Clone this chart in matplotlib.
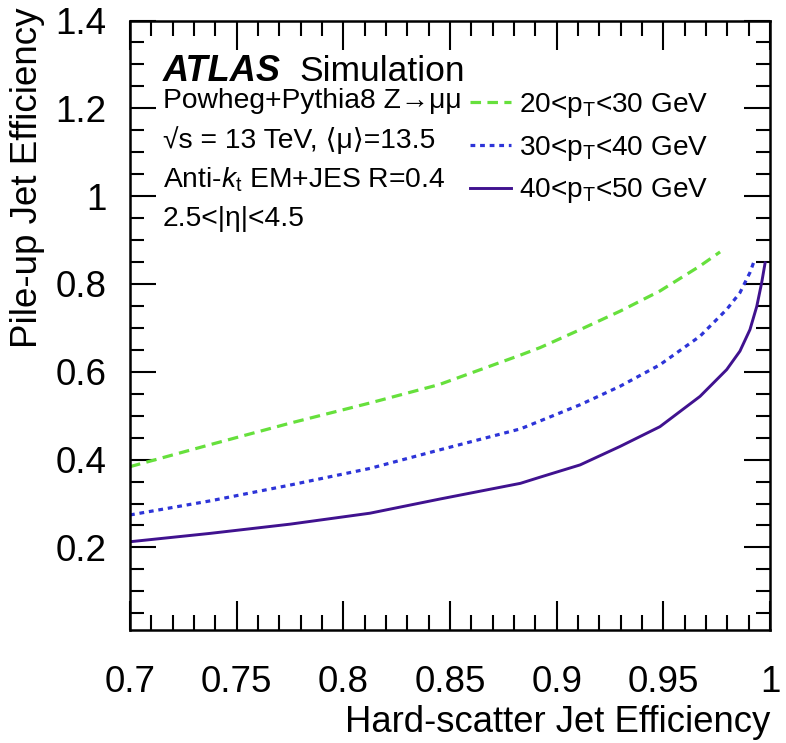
import matplotlib
matplotlib.use("Agg")
import matplotlib.pyplot as plt
from matplotlib.ticker import MultipleLocator

plt.rcParams['font.family'] = ['Liberation Sans', 'DejaVu Sans']
plt.rcParams['mathtext.fontset'] = 'custom'
plt.rcParams['mathtext.rm'] = 'Liberation Sans'
plt.rcParams['mathtext.it'] = 'Liberation Sans:italic'

# Data
x_20_30 = [0.700, 0.7375, 0.775, 0.8125, 0.845, 0.883, 0.8922, 0.911, 0.9297, 0.9484, 0.9672, 0.9766]
y_20_30 = [0.384, 0.434, 0.483, 0.529, 0.571, 0.638, 0.655, 0.696, 0.738, 0.784, 0.841, 0.873]

x_30_40 = [0.700, 0.7375, 0.775, 0.8125, 0.845, 0.883, 0.8922, 0.911, 0.9297, 0.9484, 0.9672, 0.9797, 0.9859, 0.9906, 0.993]
y_30_40 = [0.274, 0.306, 0.342, 0.380, 0.422, 0.470, 0.488, 0.525, 0.567, 0.616, 0.681, 0.742, 0.780, 0.826, 0.858]

x_40_50 = [0.700, 0.7375, 0.775, 0.8125, 0.845, 0.883, 0.8922, 0.911, 0.9297, 0.9484, 0.9672, 0.9797, 0.9859, 0.9906, 0.9938, 0.9961, 0.9977]
y_40_50 = [0.213, 0.232, 0.253, 0.278, 0.310, 0.346, 0.360, 0.388, 0.430, 0.475, 0.544, 0.605, 0.647, 0.696, 0.749, 0.803, 0.848]

labels = [r'20<p$_{\mathrm{T}}$<30 GeV', r'30<p$_{\mathrm{T}}$<40 GeV', r'40<p$_{\mathrm{T}}$<50 GeV']
colors = ['#66e03c', '#2d34d8', '#40128f']

xticks = [0.7, 0.75, 0.8, 0.85, 0.9, 0.95, 1.0]
xticklabels = ['0.7', '0.75', '0.8', '0.85', '0.9', '0.95', '1']
yticks = [0.2, 0.4, 0.6, 0.8, 1.0, 1.2, 1.4]
yticklabels = ['0.2', '0.4', '0.6', '0.8', '1', '1.2', '1.4']

W, H = 786, 743
fig = plt.figure(figsize=(W / 100, H / 100), dpi=100)
ax = fig.add_axes([130 / W, 113 / H, 640 / W, 609.5 / H])

ax.plot(x_20_30, y_20_30, color=colors[0], lw=2.3, ls=(0, (3.3, 2.0)), label=labels[0])
ax.plot(x_30_40, y_30_40, color=colors[1], lw=2.3, ls=(0, (1.5, 1.5)), label=labels[1])
ax.plot(x_40_50, y_40_50, color=colors[2], lw=2.1, ls='-', label=labels[2])

ax.set_xlim(0.7, 1.0)
ax.set_ylim(0.012, 1.4)
ax.xaxis.set_minor_locator(MultipleLocator(0.01))
ax.yaxis.set_minor_locator(MultipleLocator(0.05))
ax.set_xticks(xticks)
ax.set_xticklabels(xticklabels)
ax.set_yticks(yticks)
ax.set_yticklabels(yticklabels)
ax.tick_params(which='both', direction='in', top=True, right=True, width=1.5, labelsize=26.5)
ax.tick_params(axis='x', which='major', length=21, pad=25)
ax.tick_params(axis='y', which='major', length=19, pad=17)
ax.tick_params(axis='x', which='minor', length=11)
ax.tick_params(axis='y', which='minor', length=10)
for s in ax.spines.values():
    s.set_linewidth(1.8)

fig.text(770 / W, 1 - 722 / H, 'Hard-scatter Jet Efficiency', fontsize=26.3, ha='right', va='center')
fig.text(28 / W, 1 - 8 / H, 'Pile-up Jet Efficiency', fontsize=26.5, ha='center', va='top', rotation=90)

fig.text(163 / W, 1 - 81 / H, 'ATLAS', fontsize=26, fontweight='bold', fontstyle='italic', va='baseline')
fig.text(299 / W, 1 - 81 / H, 'Simulation', fontsize=25.5, va='baseline')
txt = ['Powheg+Pythia8 Z\u2192\u03bc\u03bc',
       '\u221as = 13 TeV, \u27e8\u03bc\u27e9=13.5',
       r'Anti-$k_{\mathrm{t}}$ EM+JES R=0.4',
       '2.5<|\u03b7|<4.5']
ys = [101, 140, 180, 219]
for t, yy in zip(txt, ys):
    fig.text(163 / W, 1 - yy / H, t, fontsize=20.3, va='center')

leg = ax.legend(loc='upper left', bbox_to_anchor=(470 / W, 1 - 91 / H), bbox_transform=fig.transFigure,
                frameon=False, fontsize=20.2, handlelength=1.45, handletextpad=0.3, labelspacing=0.49,
                borderaxespad=0, borderpad=0)

fig.savefig('out.png', dpi=100)
